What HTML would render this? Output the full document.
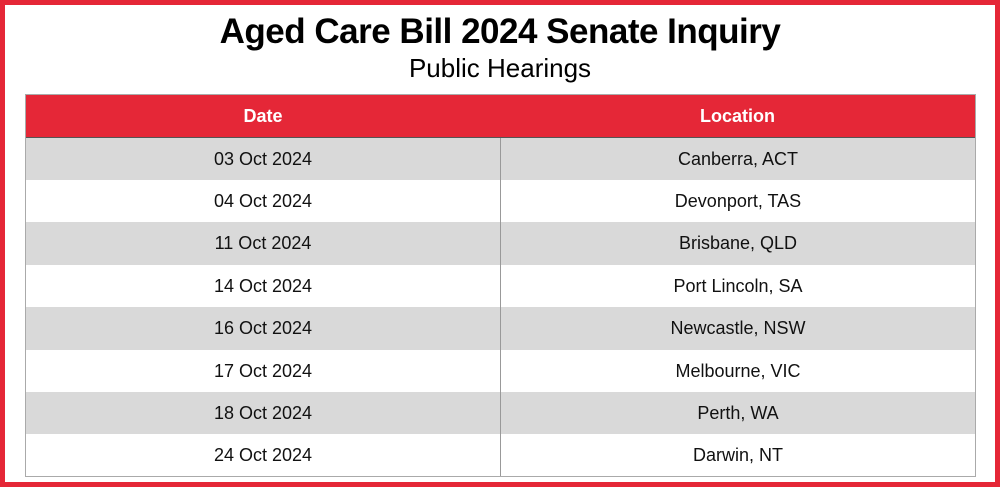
<!DOCTYPE html>
<html><head><style>
body{margin:0;width:1000px;height:487px;overflow:hidden;background:#fff;font-family:"Liberation Sans",sans-serif;position:relative}
.frame{position:absolute;left:0;top:0;width:990px;height:477px;border:5px solid #e52737;background:#fff;}
h1{position:absolute;left:0;width:1000px;top:12px;margin:0;text-align:center;font-size:35px;font-weight:bold;color:#000;letter-spacing:-0.5px}
h2{position:absolute;left:0;width:1000px;top:53px;margin:0;text-align:center;font-size:26px;font-weight:normal;color:#000}
.tbl{position:absolute;left:25px;top:94px;width:949px;height:381px;border:1px solid #aaa;}
.row{position:absolute;left:0;width:949px;display:flex;font-size:18px;color:#111;align-items:center}
.row div{text-align:center}
.row div:first-child{width:474px;border-right:1px solid #999;height:100%;display:flex;align-items:center;justify-content:center}
.row div:last-child{flex:1}
.hd{top:0;height:42px;background:#e52737;color:#fff;font-weight:bold;border-bottom:1px solid #555}
.hd div:first-child{border-right:none!important}
.g{background:#d9d9d9}
</style></head><body>
<div class="frame"></div>
<h1>Aged Care Bill 2024 Senate Inquiry</h1>
<h2>Public Hearings</h2>
<div class="tbl">
<div class="row hd"><div>Date</div><div>Location</div></div>
<div class="row g" style="top:43px;height:42px"><div>03 Oct 2024</div><div>Canberra, ACT</div></div>
<div class="row" style="top:85px;height:42px"><div>04 Oct 2024</div><div>Devonport, TAS</div></div>
<div class="row g" style="top:127px;height:43px"><div>11 Oct 2024</div><div>Brisbane, QLD</div></div>
<div class="row" style="top:170px;height:42px"><div>14 Oct 2024</div><div>Port Lincoln, SA</div></div>
<div class="row g" style="top:212px;height:43px"><div>16 Oct 2024</div><div>Newcastle, NSW</div></div>
<div class="row" style="top:255px;height:42px"><div>17 Oct 2024</div><div>Melbourne, VIC</div></div>
<div class="row g" style="top:297px;height:42px"><div>18 Oct 2024</div><div>Perth, WA</div></div>
<div class="row" style="top:339px;height:42px"><div>24 Oct 2024</div><div>Darwin, NT</div></div>
</div>
</body></html>
